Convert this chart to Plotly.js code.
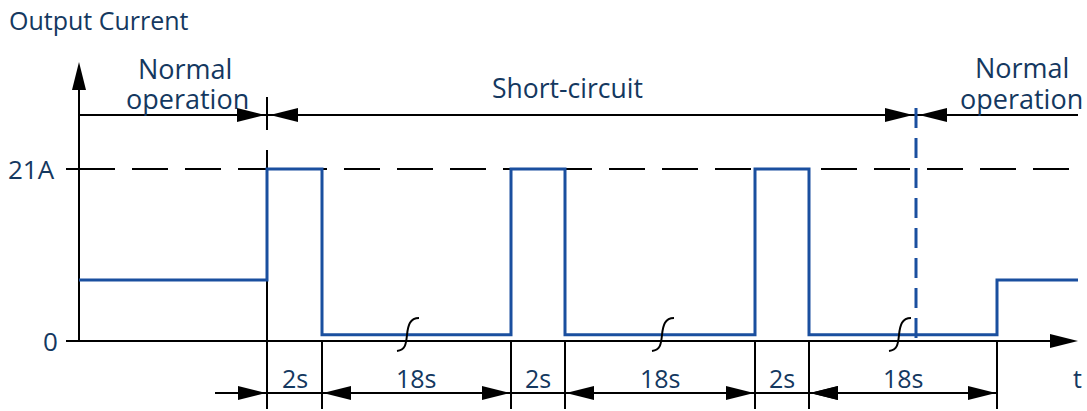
<!DOCTYPE html>
<html>
<head>
<meta charset="utf-8">
<script src="https://cdn.plot.ly/plotly-3.0.1.min.js"></script>
<style>
  html, body { margin: 0; padding: 0; background: #ffffff; }
  #chart { width: 1087px; height: 411px; }
</style>
</head>
<body>
<div id="chart"></div>
<script>
// schematic time positions of the current steps (diagram is not to scale)
const stepTimes = [79, 267, 322, 511, 565, 755, 809, 997, 1078];
// current level (A) held after each step
const stepLevels = [7.45, 21, 0.75, 21, 0.75, 21, 0.75, 7.45];
const limitCurrent = 21;
const durationLabels = ["2s", "18s", "2s", "18s", "2s", "18s"];
const yTickVals = [0, 21];
const yTickText = ["0", "21A"];
const shortCircuitEnd = 916;
const breakMarks = [408, 663, 900];

const TEXT = "#143860";
const BLUE = "#1a4f9f";
const FONT = "Open Sans, Noto Sans, sans-serif";

const shapes = [];
const annotations = [];

function line(x0, y0, x1, y1, opts) {
  opts = opts || {};
  shapes.push({
    type: "line", xref: "x", yref: opts.yref || "y2",
    x0: x0, y0: y0, x1: x1, y1: y1,
    line: { color: opts.color || "#000", width: opts.width || 2, dash: opts.dash || "solid" },
    layer: opts.layer || "below"
  });
}

function arrowHead(tipX, tipY, dir) {
  const len = 28, half = 7;
  let p;
  if (dir === "right") p = [[tipX, tipY], [tipX - len, tipY - half], [tipX - len, tipY + half]];
  else if (dir === "left") p = [[tipX, tipY], [tipX + len, tipY - half], [tipX + len, tipY + half]];
  else p = [[tipX, tipY], [tipX - half, tipY + len], [tipX + half, tipY + len]];
  shapes.push({
    type: "path", xref: "x", yref: "y2",
    path: "M " + p.map(function(q) { return q[0] + " " + q[1]; }).join(" L ") + " Z",
    fillcolor: "#000", line: { width: 0 }
  });
}

function label(text, x, y, size, anchor) {
  annotations.push({
    text: text, x: x, y: y, xref: "x", yref: "y2",
    xanchor: anchor || "center", yanchor: "middle", showarrow: false,
    font: { family: FONT, size: size, color: TEXT }
  });
}

// axes
line(79, 341, 79, 88);
arrowHead(79, 62, "up");
line(66, 341, 1052, 341);
arrowHead(1078, 341, "right");
line(66, 169, 79, 169);
line(79, limitCurrent, 1078, limitCurrent, { yref: "y", dash: "36px,17px" });

yTickVals.forEach(function(v, i) {
  label(yTickText[i], i === 0 ? 60 : 57, v === 0 ? 341 : 169, 26, "right");
});

// top phase row
line(79, 115, 1078, 115);
arrowHead(265, 115, "right");
arrowHead(270, 115, "left");
arrowHead(913, 115, "right");
arrowHead(919, 115, "left");
line(267, 97, 267, 169, { dash: "33px,20px" });
line(shortCircuitEnd, 108, shortCircuitEnd, 341, { color: BLUE, width: 3, dash: "20px,10px", layer: "above" });

label("Normal", 185, 68, 27);
label("operation", 187, 98, 27);
label("Short-circuit", 567, 88, 26.5);
label("Normal", 1022, 67, 27);
label("operation", 1021, 98, 27);
label("Output Current", 7, 20, 25, "left");

// bottom timing row
line(267, 280, 267, 341);
for (let i = 1; i < stepTimes.length - 1; i++) {
  line(stepTimes[i], 341, stepTimes[i], 409);
}
line(215, 393, stepTimes[7], 393);
arrowHead(stepTimes[1] - 1, 393, "right");
for (let i = 1; i < 7; i++) {
  const mid = (stepTimes[i] + stepTimes[i + 1]) / 2;
  label(durationLabels[i - 1], mid, 378, 25);
  if (durationLabels[i - 1] === "18s") {
    arrowHead(stepTimes[i] + 1, 393, "left");
    arrowHead(stepTimes[i + 1] - 1, 393, "right");
  }
}
arrowHead(stepTimes[6] + 1, 393, "left");
label("t", 1077, 378, 25);

// break marks on the long off periods
breakMarks.forEach(function(cx) {
  shapes.push({
    type: "path", xref: "x", yref: "y2", layer: "above",
    path: "M " + (cx - 11) + " 351 C " + (cx - 3) + " 350, " + (cx - 2) + " 345, " + (cx - 1) + " 335 " +
          "S " + (cx + 2) + " 318, " + (cx + 11) + " 318",
    line: { color: "#000", width: 2 }
  });
});

const wave = {
  x: stepTimes,
  y: stepLevels.concat([stepLevels[stepLevels.length - 1]]),
  type: "scatter",
  mode: "lines",
  line: { shape: "hv", color: BLUE, width: 3 },
  hoverinfo: "skip",
  showlegend: false
};

// helper trace so the pixel-space overlay axis exists
const anchor = {
  x: [0], y: [0], yaxis: "y2", type: "scatter", mode: "markers",
  marker: { opacity: 0 }, hoverinfo: "skip", showlegend: false
};

const layout = {
  width: 1087,
  height: 411,
  margin: { l: 0, r: 0, t: 0, b: 0, pad: 0 },
  paper_bgcolor: "#ffffff",
  plot_bgcolor: "#ffffff",
  showlegend: false,
  xaxis: { range: [0, 1087], visible: false, fixedrange: true },
  yaxis: { range: [-8.547, 41.634], visible: false, fixedrange: true },
  yaxis2: { range: [411, 0], overlaying: "y", visible: false, fixedrange: true },
  shapes: shapes,
  annotations: annotations
};

Plotly.newPlot("chart", [wave, anchor], layout, { displayModeBar: false, staticPlot: true });
</script>
</body>
</html>
